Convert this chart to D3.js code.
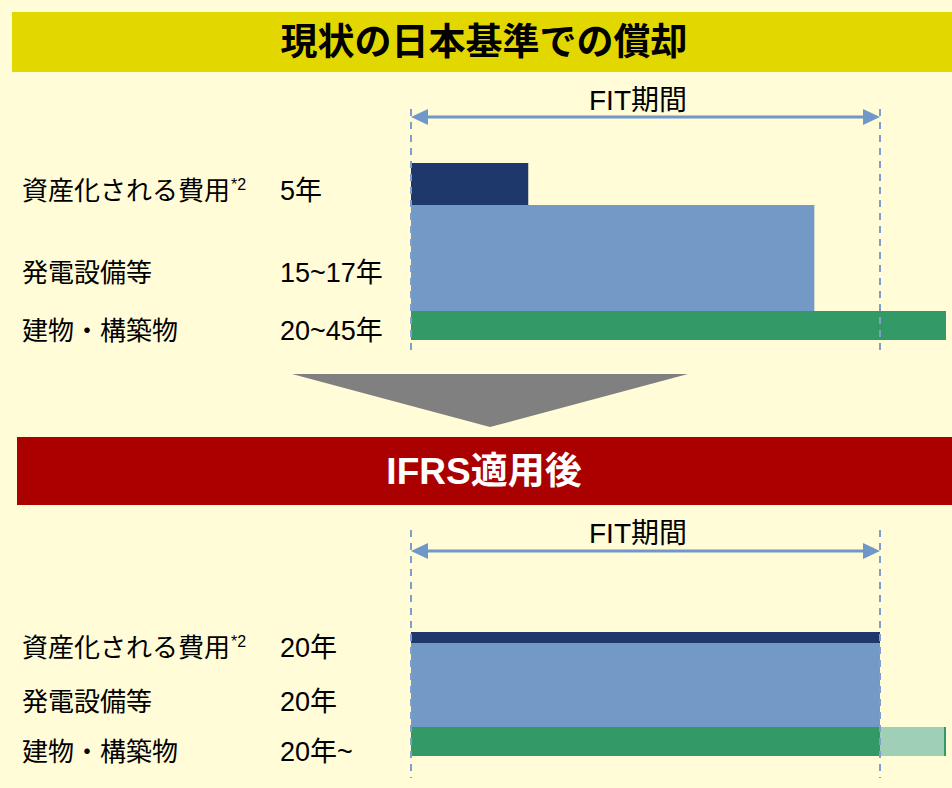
<!DOCTYPE html>
<html>
<head>
<meta charset="utf-8">
<script src="https://cdn.jsdelivr.net/npm/d3@7"></script>
<style>
  html, body { margin: 0; padding: 0; background: #FFFCD7; }
  svg { display: block; }
  text { font-family: "Liberation Sans", Arial, "Noto Sans CJK JP", sans-serif; }
  text.name { font-family: "Noto Sans CJK JP", sans-serif; }
</style>
</head>
<body>
<script>
// data
var fitYears = 20;
var periodLabel = "FIT期間";
var sectionTitles = ["現状の日本基準での償却", "IFRS適用後"];
var assetNames = ["資産化される費用", "発電設備等", "建物・構築物"];
var assetNotes = ["*2", "", ""];
var lifeLabelsJP = ["5年", "15~17年", "20~45年"];
var lifeYearsJP = [5, 17.2, 45];
var lifeLabelsIFRS = ["20年", "20年", "20年~"];
var lifeYearsIFRS = [20, 20, 20];
var extraYearsIFRS = [0, 0, 45];
var barColors = ["#1F386B", "#7399C6", "#339966"];
var extraColor = "#A0CFB7";

var W = 952, H = 788;
var svg = d3.select("body").append("svg").attr("width", W).attr("height", H);

svg.append("rect").attr("width", W).attr("height", H).attr("fill", "#FFFCD7");

svg.append("defs").append("clipPath").attr("id", "plotclip")
  .append("rect").attr("x", 0).attr("y", 0).attr("width", 946).attr("height", H);

var x = d3.scaleLinear().domain([0, fitYears]).range([411, 880]);

var sections = [
  { title: sectionTitles[0], band: [12, 72], bandX: 12, bandColor: "#E2D800", titleColor: "#000",
    fitTextY: 110, arrowY: 117, dash: [109, 356],
    rowEdges: [163, 205, 311, 340], labelY: [200, 282, 340],
    labels: lifeLabelsJP, years: lifeYearsJP, extra: null },
  { title: sectionTitles[1], band: [437, 505], bandX: 17, bandColor: "#AA0000", titleColor: "#fff",
    fitTextY: 543, arrowY: 551, dash: [530, 778],
    rowEdges: [632, 643, 727, 756], labelY: [657, 711, 761],
    labels: lifeLabelsIFRS, years: lifeYearsIFRS, extra: extraYearsIFRS }
];

sections.forEach(function(s) {
  var g = svg.append("g");

  g.append("rect")
    .attr("x", s.bandX).attr("y", s.band[0])
    .attr("width", W - s.bandX).attr("height", s.band[1] - s.band[0])
    .attr("fill", s.bandColor);
  g.append("text")
    .attr("x", 484).attr("y", (s.band[0] + s.band[1]) / 2 + 13)
    .attr("text-anchor", "middle")
    .attr("font-size", 37).attr("font-weight", "bold")
    .attr("fill", s.titleColor)
    .text(s.title);

  var y = d3.scaleLinear().domain([0, 1, 2, 3]).range(s.rowEdges);
  var plot = g.append("g").attr("clip-path", "url(#plotclip)");

  if (s.extra) {
    var ext = s.extra.map(function(v, i) { return { v: v, i: i, start: s.years[i] }; })
      .filter(function(d) { return d.v > d.start; });
    plot.selectAll("rect.extra")
      .data(ext)
      .enter().append("rect")
      .attr("class", "extra")
      .attr("x", function(d) { return x(d.start); })
      .attr("y", function(d) { return y(d.i); })
      .attr("width", function(d) { return Math.min(x(d.v), 946) - x(d.start) - 2; })
      .attr("height", function(d) { return y(d.i + 1) - y(d.i); })
      .attr("fill", extraColor);
    plot.selectAll("rect.edge")
      .data(ext)
      .enter().append("rect")
      .attr("class", "edge")
      .attr("x", function(d) { return Math.min(x(d.v), 946) - 2; })
      .attr("y", function(d) { return y(d.i); })
      .attr("width", 2)
      .attr("height", function(d) { return y(d.i + 1) - y(d.i); })
      .attr("fill", barColors[2]);
  }

  plot.selectAll("rect.bar")
    .data(s.years)
    .enter().append("rect")
    .attr("class", "bar")
    .attr("x", x(0))
    .attr("y", function(d, i) { return y(i); })
    .attr("width", function(d) { return x(d) - x(0); })
    .attr("height", function(d, i) { return y(i + 1) - y(i); })
    .attr("fill", function(d, i) { return barColors[i]; });

  // dashed guides at FIT start/end
  g.selectAll("line.guide")
    .data([0, fitYears])
    .enter().append("line")
    .attr("x1", function(d) { return x(d); }).attr("x2", function(d) { return x(d); })
    .attr("y1", s.dash[0]).attr("y2", s.dash[1])
    .attr("stroke", "#7E9FCC").attr("stroke-width", 2)
    .attr("stroke-dasharray", "7,6");

  // double arrow
  var ay = s.arrowY;
  g.append("line")
    .attr("x1", x(0) + 12).attr("x2", x(fitYears) - 12)
    .attr("y1", ay).attr("y2", ay)
    .attr("stroke", "#6F97C8").attr("stroke-width", 3);
  g.append("path")
    .attr("d", "M" + x(0) + "," + ay + "L" + (x(0) + 17) + "," + (ay - 8) + "L" + (x(0) + 17) + "," + (ay + 8) + "Z")
    .attr("fill", "#6F97C8");
  g.append("path")
    .attr("d", "M" + x(fitYears) + "," + ay + "L" + (x(fitYears) - 17) + "," + (ay - 8) + "L" + (x(fitYears) - 17) + "," + (ay + 8) + "Z")
    .attr("fill", "#6F97C8");
  g.append("text")
    .attr("x", 638).attr("y", s.fitTextY)
    .attr("text-anchor", "middle")
    .attr("font-size", 28)
    .attr("fill", "#000")
    .text(periodLabel);

  // row labels
  var names = g.selectAll("text.name")
    .data(assetNames)
    .enter().append("text")
    .attr("class", "name")
    .attr("x", 22)
    .attr("y", function(d, i) { return s.labelY[i]; })
    .attr("font-size", 26)
    .attr("fill", "#000");
  names.append("tspan").text(function(d) { return d; });
  names.append("tspan")
    .attr("font-size", 16)
    .attr("font-family", "Liberation Sans, Arial, sans-serif")
    .attr("dx", 1)
    .attr("dy", -10)
    .text(function(d, i) { return assetNotes[i]; });

  g.selectAll("text.life")
    .data(s.labels)
    .enter().append("text")
    .attr("class", "life")
    .attr("x", 280)
    .attr("y", function(d, i) { return s.labelY[i]; })
    .attr("font-size", 27)
    .attr("fill", "#000")
    .text(function(d) { return d; });
});

// transition arrow between sections
var tri = d3.line();
svg.append("path")
  .attr("d", tri([[292, 374], [688, 374], [490, 427]]) + "Z")
  .attr("fill", "#808080");
</script>
</body>
</html>
